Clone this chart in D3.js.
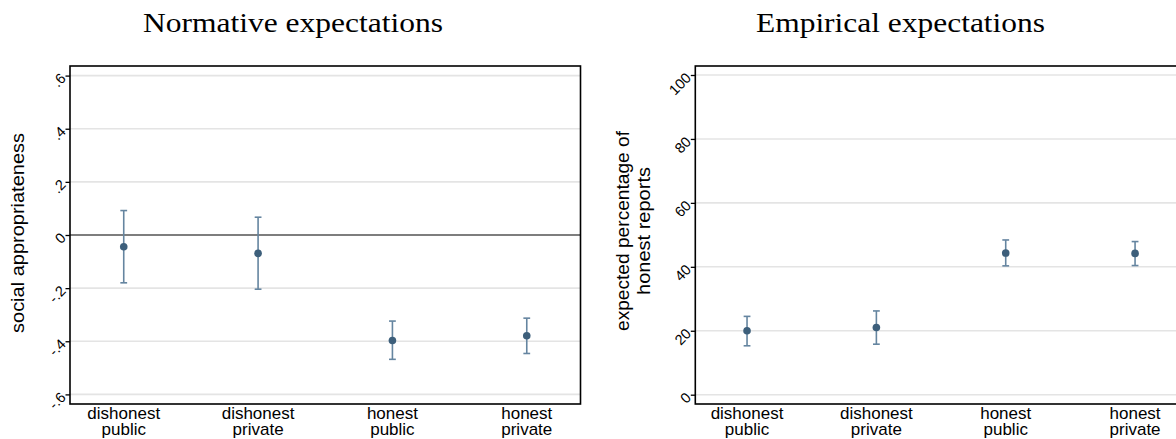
<!DOCTYPE html>
<html>
<head>
<meta charset="utf-8">
<script src="https://cdn.jsdelivr.net/npm/d3@7"></script>
<style>
  html, body { margin: 0; padding: 0; background: #fff; }
  svg { display: block; }
  text { font-family: "Liberation Sans", Arial, sans-serif; fill: #000; }
  .title { font-family: "Liberation Serif", "Times New Roman", serif; }
</style>
</head>
<body>
<svg id="chart" width="1176" height="439"></svg>
<script>
// Treatment categories (two-line labels on the x axis)
const categories = [
  ["dishonest", "public"],
  ["dishonest", "private"],
  ["honest", "public"],
  ["honest", "private"]
];

// Normative expectations: mean social appropriateness with 95% CI
const normMean = [-0.044, -0.069, -0.397, -0.379];
const normLow  = [-0.180, -0.204, -0.468, -0.446];
const normHigh = [ 0.092,  0.067, -0.324, -0.313];
const normTicks = [-0.6, -0.4, -0.2, 0, 0.2, 0.4, 0.6];

// Empirical expectations: expected percentage of honest reports with 95% CI
const empMean = [20.0, 21.0, 44.3, 44.2];
const empLow  = [15.3, 15.8, 40.3, 40.4];
const empHigh = [24.5, 26.2, 48.4, 47.9];
const empTicks = [0, 20, 40, 60, 80, 100];

const svg = d3.select("#chart");

const dotColor = "#3d5f7b";
const barColor = "#6585a0";

// Stata-like tick label: drop the leading zero (".2", "-.4")
const stataFmt = d => {
  if (Math.abs(d) < 1e-9) return "0";
  const s = d3.format(".1f")(Math.abs(d)).replace(/^0/, "");
  return (d < 0 ? "-" : "") + s;
};

function panel(cfg) {
  const g = svg.append("g");
  const x = d3.scaleLinear().domain([0.6, 4.4]).range([cfg.left, cfg.right]);
  const y = d3.scaleLinear().domain(cfg.domain).range(cfg.yRange);

  // horizontal grid
  g.append("g").selectAll("line").data(cfg.ticks).join("line")
    .attr("x1", cfg.left).attr("x2", cfg.right)
    .attr("y1", d => y(d)).attr("y2", d => y(d))
    .attr("stroke", "#e4e4e4").attr("stroke-width", 1.6);

  // reference line at zero
  if (cfg.zeroLine) {
    g.append("line")
      .attr("x1", cfg.left).attr("x2", cfg.right)
      .attr("y1", y(0)).attr("y2", y(0))
      .attr("stroke", "#5a5a5a").attr("stroke-width", 1.6);
  }

  // y axis with slanted tick labels
  const ax = g.append("g")
    .attr("transform", `translate(${cfg.left},0)`)
    .call(d3.axisLeft(y).tickValues(cfg.ticks).tickSize(4.5).tickFormat(cfg.fmt));
  ax.select(".domain").remove();
  ax.selectAll(".tick line").attr("stroke", "#000").attr("stroke-width", 1.3);
  ax.selectAll(".tick text")
    .attr("x", null).attr("dy", "0.32em")
    .attr("text-anchor", "end")
    .attr("transform", "translate(-6.5,0) rotate(-45)")
    .style("font-family", "'Liberation Sans', Arial, sans-serif")
    .style("font-size", "14.5px")
    .attr("fill", "#000");

  // plot frame
  g.append("rect")
    .attr("x", cfg.left).attr("y", cfg.top)
    .attr("width", cfg.right - cfg.left).attr("height", cfg.bottom - cfg.top)
    .attr("fill", "none").attr("stroke", "#000").attr("stroke-width", 1.6);

  // confidence intervals
  const idx = d3.range(categories.length);
  const capW = 3.4;
  const ci = g.append("g").attr("stroke", barColor).attr("stroke-width", 1.6);
  ci.selectAll("line.v").data(idx).join("line").attr("class", "v")
    .attr("x1", i => x(i + 1)).attr("x2", i => x(i + 1))
    .attr("y1", i => y(cfg.low[i])).attr("y2", i => y(cfg.high[i]));
  ci.selectAll("line.lo").data(idx).join("line").attr("class", "lo")
    .attr("x1", i => x(i + 1) - capW).attr("x2", i => x(i + 1) + capW)
    .attr("y1", i => y(cfg.low[i])).attr("y2", i => y(cfg.low[i]));
  ci.selectAll("line.hi").data(idx).join("line").attr("class", "hi")
    .attr("x1", i => x(i + 1) - capW).attr("x2", i => x(i + 1) + capW)
    .attr("y1", i => y(cfg.high[i])).attr("y2", i => y(cfg.high[i]));

  // point estimates
  g.append("g").selectAll("circle").data(idx).join("circle")
    .attr("cx", i => x(i + 1)).attr("cy", i => y(cfg.mean[i]))
    .attr("r", 3.8).attr("fill", dotColor);

  // category labels, one text per line
  const xl = g.append("g").style("font-size", "17px").attr("text-anchor", "middle");
  xl.selectAll("text.l1").data(idx).join("text").attr("class", "l1")
    .attr("x", i => x(i + 1)).attr("y", 419).text(i => categories[i][0]);
  xl.selectAll("text.l2").data(idx).join("text").attr("class", "l2")
    .attr("x", i => x(i + 1)).attr("y", 434.5).text(i => categories[i][1]);

  // y axis title
  cfg.ytitle.forEach((line, k) => {
    g.append("text")
      .attr("transform", `translate(${cfg.ytitleX[k]},${cfg.ytitleY}) rotate(-90)`)
      .attr("text-anchor", "middle")
      .style("font-size", "17.5px")
      .attr("textLength", cfg.ytitleLen[k])
      .attr("lengthAdjust", "spacingAndGlyphs")
      .text(line);
  });

  // panel title
  svg.append("text").attr("class", "title")
    .attr("x", cfg.titleX).attr("y", 32)
    .attr("text-anchor", "middle")
    .style("font-size", "27px")
    .attr("textLength", cfg.titleLen)
    .attr("lengthAdjust", "spacingAndGlyphs")
    .text(cfg.title);
}

panel({
  left: 70, right: 580.5, top: 66, bottom: 404,
  domain: [-0.6, 0.6], yRange: [394.4, 75.6],
  ticks: normTicks, fmt: stataFmt, zeroLine: true,
  mean: normMean, low: normLow, high: normHigh,
  ytitle: ["social appropriateness"], ytitleX: [24], ytitleY: 233, ytitleLen: [200],
  title: "Normative expectations", titleX: 293, titleLen: 300
});

panel({
  left: 695.3, right: 1186.8, top: 66, bottom: 404,
  domain: [0, 100], yRange: [394.7, 75],
  ticks: empTicks, fmt: d3.format("d"), zeroLine: false,
  mean: empMean, low: empLow, high: empHigh,
  ytitle: ["expected percentage of", "honest reports"], ytitleX: [629, 649.5], ytitleY: 231, ytitleLen: [200, 128],
  title: "Empirical expectations", titleX: 900.5, titleLen: 289
});
</script>
</body>
</html>
